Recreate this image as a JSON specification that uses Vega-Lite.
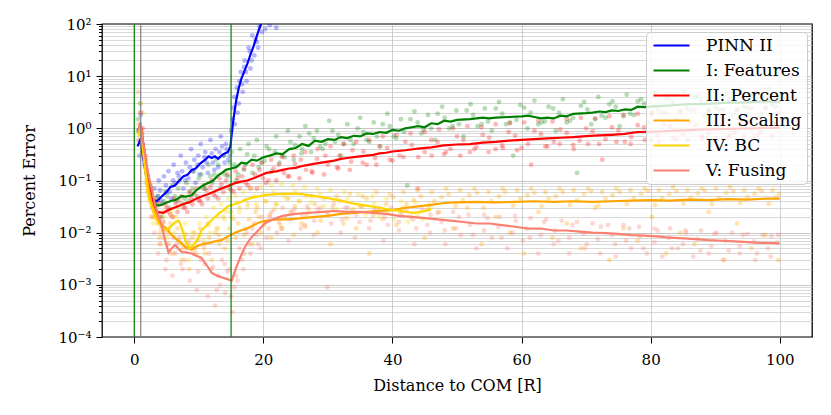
{
  "$schema": "https://vega.github.io/schema/vega-lite/v6.json",
  "description": "Percent error vs distance to COM for PINN variants",
  "width": 710,
  "height": 313,
  "autosize": {"type": "none"},
  "padding": {"left": 102, "top": 24, "right": 19, "bottom": 78},
  "datasets": {
    "pP": [
      {"x":0.6,"y":0.9},{"x":0.8,"y":0.3},{"x":1.0,"y":1.8},{"x":1.3,"y":0.5},{"x":1.6,"y":0.2},{"x":2.0,"y":0.09},{"x":2.3,"y":0.06},{"x":2.8,"y":0.03},{"x":3.1,"y":0.07},{"x":3.4,"y":0.025},{"x":3.8,"y":0.1},{"x":4.2,"y":0.04},{"x":4.6,"y":0.12},{"x":5.0,"y":0.06},{"x":5.3,"y":0.15},{"x":5.7,"y":0.045},{"x":6.1,"y":0.2},{"x":6.4,"y":0.09},{"x":6.9,"y":0.12},{"x":7.2,"y":0.3},{"x":7.6,"y":0.07},{"x":8.0,"y":0.22},{"x":8.4,"y":0.11},{"x":8.8,"y":0.4},{"x":9.1,"y":0.15},{"x":9.5,"y":0.09},{"x":9.9,"y":0.3},{"x":10.3,"y":0.5},{"x":10.6,"y":0.18},{"x":11.0,"y":0.35},{"x":11.4,"y":0.14},{"x":11.8,"y":0.6},{"x":12.2,"y":0.22},{"x":12.6,"y":0.4},{"x":13.0,"y":0.18},{"x":13.4,"y":0.7},{"x":13.8,"y":0.3},{"x":14.2,"y":0.5},{"x":14.6,"y":0.25},{"x":15.0,"y":0.9},{"x":15.3,"y":2.5},{"x":15.6,"y":1.2},{"x":15.9,"y":6},{"x":16.2,"y":3},{"x":16.5,"y":12},{"x":16.8,"y":5},{"x":17.1,"y":20},{"x":17.4,"y":8},{"x":17.7,"y":35},{"x":18.0,"y":14},{"x":18.3,"y":60},{"x":18.6,"y":25},{"x":19.0,"y":45},{"x":19.4,"y":90},{"x":19.8,"y":70},{"x":20.3,"y":80},{"x":21.0,"y":95},{"x":22.0,"y":85},
      {"x":2.5,"y":0.05},{"x":3.6,"y":0.05},{"x":4.9,"y":0.08},{"x":6.0,"y":0.1},{"x":7.4,"y":0.15},{"x":8.6,"y":0.18},{"x":9.8,"y":0.2},{"x":10.9,"y":0.28},{"x":12.0,"y":0.33},{"x":13.2,"y":0.35},{"x":14.3,"y":0.4},{"x":14.8,"y":0.3},{"x":15.5,"y":4},{"x":16.3,"y":8},{"x":17.0,"y":15},{"x":17.9,"y":30},{"x":18.8,"y":50},
      {"x":4.0,"y":0.065},{"x":5.5,"y":0.06},{"x":6.7,"y":0.14},{"x":7.9,"y":0.1},{"x":9.3,"y":0.25},{"x":10.1,"y":0.13},{"x":11.2,"y":0.22},{"x":12.4,"y":0.16},{"x":13.6,"y":0.45},{"x":14.0,"y":0.22},{"x":15.2,"y":1.5},{"x":16.0,"y":2},{"x":16.7,"y":7},{"x":17.3,"y":12},{"x":18.2,"y":20},{"x":19.2,"y":35}
    ],
    "pF": [
      {"x":0.6,"y":1.5},{"x":0.9,"y":3.0},{"x":1.2,"y":0.8},{"x":1.5,"y":0.4},{"x":2.1,"y":0.12},{"x":2.6,"y":0.07},{"x":3.1,"y":0.03},{"x":3.7,"y":0.05},{"x":4.3,"y":0.02},{"x":4.8,"y":0.06},{"x":5.4,"y":0.03},{"x":5.9,"y":0.08},{"x":6.5,"y":0.04},{"x":7.0,"y":0.1},{"x":7.6,"y":0.035},{"x":8.1,"y":0.09},{"x":8.7,"y":0.06},{"x":9.2,"y":0.15},{"x":9.8,"y":0.05},{"x":10.4,"y":0.13},{"x":11.0,"y":0.07},{"x":11.5,"y":0.2},{"x":12.1,"y":0.09},{"x":12.7,"y":0.25},{"x":13.3,"y":0.07},{"x":13.9,"y":0.3},{"x":14.5,"y":0.12},{"x":15.1,"y":0.35},{"x":15.8,"y":0.1},{"x":16.4,"y":0.4},{"x":17.0,"y":0.16},{"x":17.7,"y":0.5},{"x":18.3,"y":0.14},{"x":19.0,"y":0.6},{"x":19.8,"y":0.22},{"x":20.5,"y":0.45},{"x":21.3,"y":0.15},{"x":22.0,"y":0.7},{"x":22.9,"y":0.3},{"x":23.8,"y":0.9},{"x":24.7,"y":0.25},{"x":25.6,"y":0.7},{"x":26.5,"y":1.1},{"x":27.4,"y":0.35},{"x":28.3,"y":0.9},{"x":29.2,"y":0.4},{"x":30.2,"y":1.4},{"x":31.1,"y":0.55},{"x":32.0,"y":0.3},{"x":33.0,"y":1.2},{"x":34.0,"y":0.5},{"x":35.0,"y":1.6},{"x":36.0,"y":0.6},{"x":37.1,"y":1.3},{"x":38.1,"y":0.45},{"x":39.2,"y":1.9},{"x":40.2,"y":0.7},{"x":41.3,"y":1.5},{"x":42.3,"y":0.08},{"x":43.4,"y":2.1},{"x":44.5,"y":0.8},{"x":45.5,"y":1.8},{"x":46.6,"y":0.6},{"x":47.7,"y":2.6},{"x":48.8,"y":1.0},{"x":49.9,"y":2.2},{"x":51.0,"y":0.7},{"x":52.1,"y":2.9},{"x":53.2,"y":1.1},{"x":54.3,"y":2.4},{"x":55.4,"y":0.9},{"x":56.5,"y":3.2},{"x":57.6,"y":1.2},{"x":58.7,"y":0.3},{"x":59.8,"y":2.8},{"x":60.9,"y":1.0},{"x":62.0,"y":3.4},{"x":63.1,"y":1.3},{"x":64.2,"y":2.6},{"x":65.3,"y":0.9},{"x":66.4,"y":3.6},{"x":67.5,"y":1.4},{"x":68.6,"y":0.14},{"x":69.7,"y":3.2},{"x":70.8,"y":1.2},{"x":71.9,"y":4.0},{"x":73.0,"y":1.6},{"x":74.1,"y":3.3},{"x":75.2,"y":1.1},{"x":76.3,"y":4.4},{"x":77.4,"y":1.8},{"x":78.5,"y":3.6},{"x":79.6,"y":1.3},{"x":80.7,"y":4.8},{"x":81.8,"y":2.0},{"x":82.9,"y":3.8},{"x":84.0,"y":1.5},{"x":85.1,"y":5.0},{"x":86.2,"y":2.2},{"x":87.3,"y":4.2},{"x":88.4,"y":1.7},{"x":89.5,"y":5.5},{"x":90.6,"y":2.3},{"x":91.7,"y":4.5},{"x":92.8,"y":1.8},{"x":93.9,"y":5.6},{"x":95.0,"y":2.5},{"x":96.1,"y":4.6},{"x":97.2,"y":1.9},{"x":98.3,"y":5.8},{"x":99.4,"y":2.6},
      {"x":2.5,"y":0.08},{"x":4.6,"y":0.04},{"x":6.3,"y":0.05},{"x":7.8,"y":0.045},{"x":9.0,"y":0.07},{"x":10.7,"y":0.07},{"x":12.4,"y":0.13},{"x":14.0,"y":0.13},{"x":15.5,"y":0.2},{"x":17.2,"y":0.2},{"x":18.6,"y":0.3},{"x":20.2,"y":0.24},{"x":21.8,"y":0.36},{"x":23.3,"y":0.28},{"x":24.9,"y":0.48},{"x":26.0,"y":0.4},{"x":27.8,"y":0.65},{"x":29.6,"y":0.5},{"x":31.6,"y":0.75},{"x":33.5,"y":0.6},{"x":35.5,"y":0.85},{"x":37.6,"y":0.7},{"x":39.6,"y":1.1},{"x":41.8,"y":0.85},{"x":43.9,"y":1.3},{"x":46.0,"y":1.0},{"x":48.1,"y":1.6},{"x":50.3,"y":1.2},{"x":52.5,"y":1.8},{"x":54.8,"y":1.35},{"x":57.0,"y":1.9},{"x":59.2,"y":1.45},{"x":61.4,"y":2.0},{"x":63.6,"y":1.35},{"x":65.8,"y":2.0},{"x":68.0,"y":1.6},{"x":70.2,"y":2.3},{"x":72.4,"y":1.75},{"x":74.6,"y":2.6},{"x":76.8,"y":1.9},{"x":79.0,"y":3.0},{"x":81.2,"y":2.2},{"x":83.4,"y":3.2},{"x":85.6,"y":2.4},{"x":87.8,"y":3.4},{"x":90.0,"y":2.5},{"x":92.2,"y":3.6},{"x":94.4,"y":2.6},{"x":96.6,"y":3.7},{"x":98.8,"y":2.8},
      {"x":1.8,"y":0.25},{"x":3.3,"y":0.045},{"x":5.1,"y":0.05},{"x":6.8,"y":0.07},{"x":8.4,"y":0.04},{"x":10.0,"y":0.11},{"x":11.8,"y":0.12},{"x":13.0,"y":0.2},{"x":14.8,"y":0.22},{"x":16.1,"y":0.13},{"x":17.5,"y":0.32},{"x":19.3,"y":0.18},{"x":20.9,"y":0.4},{"x":22.5,"y":0.22},{"x":24.2,"y":0.55},{"x":25.9,"y":0.33},{"x":27.1,"y":0.8},{"x":28.8,"y":0.45},{"x":30.7,"y":0.9},{"x":32.5,"y":0.5},{"x":34.6,"y":1.0},{"x":36.4,"y":0.55},{"x":38.5,"y":1.2},{"x":40.6,"y":0.65},{"x":42.8,"y":1.5},{"x":44.8,"y":0.95},{"x":47.0,"y":1.9},{"x":49.3,"y":1.1},{"x":51.5,"y":2.2},{"x":53.8,"y":1.2},{"x":56.0,"y":2.4},{"x":58.2,"y":1.3},{"x":60.4,"y":2.5},{"x":62.6,"y":1.2},{"x":64.9,"y":2.4},{"x":67.0,"y":1.3},{"x":69.2,"y":2.7},{"x":71.4,"y":1.5},{"x":73.6,"y":2.9},{"x":75.8,"y":1.7},{"x":78.0,"y":3.3},{"x":80.2,"y":2.0},{"x":82.4,"y":3.7},{"x":84.6,"y":2.1},{"x":86.8,"y":3.9},{"x":89.0,"y":2.2},{"x":91.2,"y":4.1},{"x":93.4,"y":2.3},{"x":95.6,"y":4.3},{"x":97.8,"y":2.5},{"x":99.9,"y":4.0}
    ],
    "pPc": [
      {"x":0.7,"y":0.6},{"x":1.0,"y":2.0},{"x":1.3,"y":1.0},{"x":1.7,"y":0.3},{"x":2.2,"y":0.1},{"x":2.8,"y":0.04},{"x":3.3,"y":0.02},{"x":3.9,"y":0.035},{"x":4.5,"y":0.016},{"x":5.0,"y":0.03},{"x":5.6,"y":0.022},{"x":6.1,"y":0.045},{"x":6.7,"y":0.025},{"x":7.3,"y":0.05},{"x":7.9,"y":0.03},{"x":8.5,"y":0.06},{"x":9.0,"y":0.035},{"x":9.6,"y":0.07},{"x":10.2,"y":0.04},{"x":10.8,"y":0.08},{"x":11.4,"y":0.045},{"x":12.0,"y":0.1},{"x":12.6,"y":0.05},{"x":13.2,"y":0.11},{"x":13.8,"y":0.06},{"x":14.4,"y":0.13},{"x":15.0,"y":0.065},{"x":15.7,"y":0.15},{"x":16.3,"y":0.07},{"x":17.0,"y":0.17},{"x":17.6,"y":0.08},{"x":18.3,"y":0.2},{"x":19.0,"y":0.07},{"x":19.7,"y":0.22},{"x":20.4,"y":0.09},{"x":21.2,"y":0.25},{"x":22.0,"y":0.1},{"x":22.9,"y":0.28},{"x":23.8,"y":0.12},{"x":24.7,"y":0.3},{"x":25.6,"y":0.11},{"x":26.5,"y":0.35},{"x":27.5,"y":0.15},{"x":28.4,"y":0.4},{"x":29.4,"y":0.13},{"x":30.4,"y":0.45},{"x":31.4,"y":0.18},{"x":32.4,"y":0.5},{"x":33.4,"y":0.16},{"x":34.4,"y":0.55},{"x":35.4,"y":0.22},{"x":36.4,"y":0.6},{"x":37.5,"y":0.2},{"x":38.5,"y":0.7},{"x":39.6,"y":0.25},{"x":40.6,"y":0.75},{"x":41.7,"y":0.28},{"x":42.8,"y":0.8},{"x":43.9,"y":0.07},{"x":45.0,"y":0.85},{"x":46.1,"y":0.3},{"x":47.2,"y":0.95},{"x":48.3,"y":0.35},{"x":49.4,"y":1.0},{"x":50.5,"y":0.3},{"x":51.6,"y":1.1},{"x":52.7,"y":0.4},{"x":53.8,"y":1.05},{"x":54.9,"y":0.35},{"x":56.0,"y":1.2},{"x":57.1,"y":0.42},{"x":58.2,"y":1.25},{"x":59.3,"y":0.38},{"x":60.4,"y":1.3},{"x":61.5,"y":0.2},{"x":62.6,"y":1.4},{"x":63.7,"y":0.45},{"x":64.8,"y":1.35},{"x":65.9,"y":0.5},{"x":67.0,"y":1.5},{"x":68.1,"y":0.4},{"x":69.2,"y":1.6},{"x":70.3,"y":0.5},{"x":71.4,"y":1.55},{"x":72.5,"y":0.25},{"x":73.6,"y":1.7},{"x":74.7,"y":0.55},{"x":75.8,"y":1.8},{"x":76.9,"y":0.5},{"x":78.0,"y":1.9},{"x":79.1,"y":0.6},{"x":80.2,"y":1.9},{"x":81.3,"y":0.55},{"x":82.4,"y":2.0},{"x":83.5,"y":0.65},{"x":84.6,"y":2.1},{"x":85.7,"y":0.6},{"x":86.8,"y":2.2},{"x":87.9,"y":0.7},{"x":89.0,"y":2.2},{"x":90.1,"y":0.65},{"x":91.2,"y":2.3},{"x":92.3,"y":0.72},{"x":93.4,"y":2.3},{"x":94.5,"y":0.7},{"x":95.6,"y":2.4},{"x":96.7,"y":0.75},{"x":97.8,"y":2.4},{"x":98.9,"y":0.7},{"x":99.8,"y":2.0},
      {"x":3.0,"y":0.03},{"x":4.0,"y":0.02},{"x":5.3,"y":0.025},{"x":6.4,"y":0.036},{"x":7.6,"y":0.03},{"x":8.8,"y":0.045},{"x":10.0,"y":0.042},{"x":11.2,"y":0.065},{"x":12.3,"y":0.055},{"x":13.5,"y":0.085},{"x":14.8,"y":0.07},{"x":16.0,"y":0.11},{"x":17.3,"y":0.09},{"x":18.7,"y":0.13},{"x":20.0,"y":0.11},{"x":21.6,"y":0.17},{"x":23.2,"y":0.14},{"x":24.9,"y":0.21},{"x":26.6,"y":0.16},{"x":28.3,"y":0.26},{"x":30.0,"y":0.2},{"x":31.8,"y":0.3},{"x":33.6,"y":0.23},{"x":35.5,"y":0.36},{"x":37.3,"y":0.27},{"x":39.2,"y":0.42},{"x":41.1,"y":0.3},{"x":43.0,"y":0.48},{"x":45.0,"y":0.35},{"x":47.0,"y":0.55},{"x":49.0,"y":0.4},{"x":51.0,"y":0.6},{"x":53.0,"y":0.44},{"x":55.0,"y":0.66},{"x":57.0,"y":0.47},{"x":59.0,"y":0.72},{"x":61.0,"y":0.5},{"x":63.0,"y":0.78},{"x":65.0,"y":0.55},{"x":67.0,"y":0.82},{"x":69.0,"y":0.58},{"x":71.0,"y":0.88},{"x":73.0,"y":0.62},{"x":75.0,"y":0.92},{"x":77.0,"y":0.68},{"x":79.0,"y":1.05},{"x":81.0,"y":0.72},{"x":83.0,"y":1.1},{"x":85.0,"y":0.76},{"x":87.0,"y":1.15},{"x":89.0,"y":0.8},{"x":91.0,"y":1.2},{"x":93.0,"y":0.82},{"x":95.0,"y":1.25},{"x":97.0,"y":0.85},{"x":99.0,"y":1.25},
      {"x":2.5,"y":0.06},{"x":3.6,"y":0.04},{"x":4.8,"y":0.035},{"x":6.0,"y":0.02},{"x":7.0,"y":0.04},{"x":8.2,"y":0.025},{"x":9.3,"y":0.055},{"x":10.5,"y":0.035},{"x":11.8,"y":0.075},{"x":13.0,"y":0.045},{"x":14.2,"y":0.1},{"x":15.4,"y":0.06},{"x":16.7,"y":0.12},{"x":18.0,"y":0.07},{"x":19.4,"y":0.16},{"x":20.8,"y":0.1},{"x":22.4,"y":0.2},{"x":24.0,"y":0.12},{"x":25.8,"y":0.25},{"x":27.6,"y":0.14},{"x":29.6,"y":0.3},{"x":31.6,"y":0.17},{"x":33.8,"y":0.38},{"x":36.0,"y":0.2},{"x":38.0,"y":0.45},{"x":40.0,"y":0.24},{"x":42.0,"y":0.55},{"x":44.0,"y":0.28},{"x":46.0,"y":0.6},{"x":48.0,"y":0.32},{"x":50.0,"y":0.7},{"x":52.0,"y":0.35},{"x":54.0,"y":0.75},{"x":56.0,"y":0.4},{"x":58.0,"y":0.85},{"x":60.0,"y":0.42},{"x":62.0,"y":0.9},{"x":64.0,"y":0.45},{"x":66.0,"y":0.95},{"x":68.0,"y":0.48},{"x":70.0,"y":1.0},{"x":72.0,"y":0.5},{"x":74.0,"y":1.05},{"x":76.0,"y":0.55},{"x":78.0,"y":1.15},{"x":80.0,"y":0.6},{"x":82.0,"y":1.2},{"x":84.0,"y":0.62},{"x":86.0,"y":1.3},{"x":88.0,"y":0.65},{"x":90.0,"y":1.35},{"x":92.0,"y":0.68},{"x":94.0,"y":1.4},{"x":96.0,"y":0.7},{"x":98.0,"y":1.4}
    ],
    "pS": [
      {"x":0.7,"y":1.2},{"x":1.0,"y":0.5},{"x":1.3,"y":2.0},{"x":1.7,"y":0.2},{"x":2.2,"y":0.06},{"x":2.8,"y":0.02},{"x":3.3,"y":0.04},{"x":3.9,"y":0.008},{"x":4.5,"y":0.025},{"x":5.0,"y":0.006},{"x":5.6,"y":0.015},{"x":6.1,"y":0.004},{"x":6.7,"y":0.012},{"x":7.3,"y":0.003},{"x":7.9,"y":0.009},{"x":8.5,"y":0.002},{"x":9.0,"y":0.008},{"x":9.6,"y":0.004},{"x":10.2,"y":0.012},{"x":10.8,"y":0.005},{"x":11.4,"y":0.015},{"x":12.0,"y":0.003},{"x":12.6,"y":0.01},{"x":13.2,"y":0.006},{"x":13.8,"y":0.02},{"x":14.4,"y":0.007},{"x":15.0,"y":0.025},{"x":15.7,"y":0.008},{"x":16.3,"y":0.03},{"x":17.0,"y":0.009},{"x":17.6,"y":0.035},{"x":18.3,"y":0.006},{"x":19.0,"y":0.03},{"x":19.7,"y":0.01},{"x":20.4,"y":0.04},{"x":21.2,"y":0.008},{"x":22.0,"y":0.035},{"x":22.9,"y":0.012},{"x":23.8,"y":0.045},{"x":24.7,"y":0.009},{"x":25.6,"y":0.04},{"x":26.5,"y":0.013},{"x":27.5,"y":0.05},{"x":28.4,"y":0.01},{"x":29.4,"y":0.045},{"x":30.4,"y":0.006},{"x":31.4,"y":0.05},{"x":32.4,"y":0.015},{"x":33.4,"y":0.055},{"x":34.4,"y":0.012},{"x":35.4,"y":0.05},{"x":36.4,"y":0.004},{"x":37.5,"y":0.06},{"x":38.5,"y":0.018},{"x":39.6,"y":0.055},{"x":40.6,"y":0.014},{"x":41.7,"y":0.06},{"x":42.8,"y":0.02},{"x":43.9,"y":0.065},{"x":45.0,"y":0.008},{"x":46.1,"y":0.06},{"x":47.2,"y":0.025},{"x":48.3,"y":0.07},{"x":49.4,"y":0.012},{"x":50.5,"y":0.065},{"x":51.6,"y":0.03},{"x":52.7,"y":0.07},{"x":53.8,"y":0.006},{"x":54.9,"y":0.06},{"x":56.0,"y":0.02},{"x":57.1,"y":0.07},{"x":58.2,"y":0.01},{"x":59.3,"y":0.065},{"x":60.4,"y":0.004},{"x":61.5,"y":0.07},{"x":62.6,"y":0.025},{"x":63.7,"y":0.06},{"x":64.8,"y":0.008},{"x":65.9,"y":0.07},{"x":67.0,"y":0.015},{"x":68.1,"y":0.065},{"x":69.2,"y":0.005},{"x":70.3,"y":0.07},{"x":71.4,"y":0.03},{"x":72.5,"y":0.06},{"x":73.6,"y":0.003},{"x":74.7,"y":0.07},{"x":75.8,"y":0.012},{"x":76.9,"y":0.065},{"x":78.0,"y":0.007},{"x":79.1,"y":0.07},{"x":80.2,"y":0.02},{"x":81.3,"y":0.065},{"x":82.4,"y":0.004},{"x":83.5,"y":0.075},{"x":84.6,"y":0.01},{"x":85.7,"y":0.065},{"x":86.8,"y":0.006},{"x":87.9,"y":0.07},{"x":89.0,"y":0.025},{"x":90.1,"y":0.07},{"x":91.2,"y":0.003},{"x":92.3,"y":0.075},{"x":93.4,"y":0.015},{"x":94.5,"y":0.065},{"x":95.6,"y":0.005},{"x":96.7,"y":0.07},{"x":97.8,"y":0.009},{"x":98.9,"y":0.065},{"x":99.8,"y":0.003},
      {"x":3.6,"y":0.015},{"x":5.2,"y":0.01},{"x":6.8,"y":0.007},{"x":8.3,"y":0.006},{"x":9.9,"y":0.007},{"x":11.6,"y":0.008},{"x":13.1,"y":0.009},{"x":14.7,"y":0.012},{"x":16.1,"y":0.015},{"x":17.8,"y":0.018},{"x":19.3,"y":0.02},{"x":21.0,"y":0.022},{"x":22.6,"y":0.014},{"x":24.2,"y":0.025},{"x":25.9,"y":0.015},{"x":27.0,"y":0.028},{"x":28.9,"y":0.017},{"x":30.7,"y":0.03},{"x":32.9,"y":0.019},{"x":35.0,"y":0.032},{"x":37.0,"y":0.021},{"x":39.0,"y":0.035},{"x":41.2,"y":0.024},{"x":43.3,"y":0.042},{"x":45.5,"y":0.028},{"x":47.6,"y":0.048},{"x":49.8,"y":0.032},{"x":51.9,"y":0.052},{"x":54.1,"y":0.03},{"x":56.5,"y":0.05},{"x":58.7,"y":0.033},{"x":60.9,"y":0.052},{"x":63.1,"y":0.032},{"x":65.3,"y":0.05},{"x":67.5,"y":0.034},{"x":69.7,"y":0.055},{"x":71.9,"y":0.033},{"x":74.1,"y":0.052},{"x":76.3,"y":0.035},{"x":78.5,"y":0.056},{"x":80.7,"y":0.034},{"x":82.9,"y":0.055},{"x":85.1,"y":0.036},{"x":87.3,"y":0.057},{"x":89.5,"y":0.035},{"x":91.7,"y":0.058},{"x":93.9,"y":0.037},{"x":96.1,"y":0.056},{"x":98.3,"y":0.036},{"x":99.9,"y":0.055},
      {"x":4.0,"y":0.01},{"x":5.8,"y":0.02},{"x":7.5,"y":0.005},{"x":9.3,"y":0.01},{"x":11.0,"y":0.004},{"x":12.8,"y":0.012},{"x":14.0,"y":0.005},{"x":15.4,"y":0.018},{"x":17.2,"y":0.012},{"x":18.8,"y":0.025},{"x":20.1,"y":0.014},{"x":21.7,"y":0.028},{"x":23.3,"y":0.02},{"x":24.9,"y":0.032},{"x":26.7,"y":0.022},{"x":28.0,"y":0.035},{"x":29.9,"y":0.024},{"x":31.9,"y":0.04},{"x":33.9,"y":0.028},{"x":36.0,"y":0.045},{"x":38.0,"y":0.03},{"x":40.1,"y":0.048},{"x":42.2,"y":0.035},{"x":44.4,"y":0.05},{"x":46.5,"y":0.04},{"x":48.7,"y":0.055},{"x":50.9,"y":0.042},{"x":53.1,"y":0.058},{"x":55.3,"y":0.04},{"x":57.5,"y":0.06},{"x":59.8,"y":0.045},{"x":62.0,"y":0.058},{"x":64.2,"y":0.045},{"x":66.4,"y":0.06},{"x":68.6,"y":0.042},{"x":70.8,"y":0.062},{"x":73.0,"y":0.045},{"x":75.2,"y":0.06},{"x":77.4,"y":0.046},{"x":79.6,"y":0.063},{"x":81.8,"y":0.045},{"x":84.0,"y":0.062},{"x":86.2,"y":0.047},{"x":88.4,"y":0.064},{"x":90.6,"y":0.046},{"x":92.8,"y":0.062},{"x":95.0,"y":0.048},{"x":97.2,"y":0.064},{"x":99.4,"y":0.047}
    ],
    "pB": [
      {"x":0.7,"y":0.8},{"x":1.0,"y":3.0},{"x":1.3,"y":0.4},{"x":1.8,"y":0.1},{"x":2.3,"y":0.04},{"x":2.9,"y":0.015},{"x":3.4,"y":0.03},{"x":4.0,"y":0.006},{"x":4.6,"y":0.02},{"x":5.1,"y":0.008},{"x":5.7,"y":0.025},{"x":6.2,"y":0.01},{"x":6.8,"y":0.03},{"x":7.3,"y":0.006},{"x":7.9,"y":0.015},{"x":8.4,"y":0.003},{"x":9.0,"y":0.01},{"x":9.5,"y":0.005},{"x":10.1,"y":0.015},{"x":10.7,"y":0.007},{"x":11.2,"y":0.02},{"x":11.8,"y":0.01},{"x":12.3,"y":0.03},{"x":12.9,"y":0.012},{"x":13.4,"y":0.035},{"x":14.0,"y":0.018},{"x":14.6,"y":0.045},{"x":15.1,"y":0.02},{"x":15.7,"y":0.05},{"x":16.3,"y":0.025},{"x":16.9,"y":0.06},{"x":17.5,"y":0.03},{"x":18.2,"y":0.07},{"x":18.9,"y":0.035},{"x":19.6,"y":0.075},{"x":20.4,"y":0.04},{"x":21.2,"y":0.08},{"x":22.0,"y":0.035},{"x":22.8,"y":0.085},{"x":23.7,"y":0.045},{"x":24.6,"y":0.08},{"x":25.5,"y":0.04},{"x":26.4,"y":0.075},{"x":27.4,"y":0.038},{"x":28.4,"y":0.07},{"x":29.4,"y":0.032},{"x":30.4,"y":0.065},{"x":31.4,"y":0.028},{"x":32.5,"y":0.06},{"x":33.6,"y":0.025},{"x":34.7,"y":0.055},{"x":35.8,"y":0.022},{"x":36.9,"y":0.05},{"x":38.0,"y":0.02},{"x":39.1,"y":0.045},{"x":40.2,"y":0.018},{"x":41.3,"y":0.04},{"x":42.4,"y":0.016},{"x":43.5,"y":0.038},{"x":44.6,"y":0.018},{"x":45.7,"y":0.035},
      {"x":2.0,"y":0.06},{"x":3.0,"y":0.02},{"x":4.3,"y":0.015},{"x":5.5,"y":0.012},{"x":6.5,"y":0.02},{"x":7.7,"y":0.01},{"x":8.8,"y":0.006},{"x":10.3,"y":0.009},{"x":11.5,"y":0.014},{"x":13.0,"y":0.02},{"x":14.3,"y":0.025},{"x":15.9,"y":0.038},{"x":17.2,"y":0.042},{"x":18.6,"y":0.05},{"x":20.0,"y":0.055},{"x":21.6,"y":0.06},{"x":23.2,"y":0.05},{"x":24.9,"y":0.062},{"x":26.7,"y":0.05},{"x":28.8,"y":0.055},{"x":30.9,"y":0.042},{"x":33.0,"y":0.045},{"x":35.1,"y":0.032},{"x":37.2,"y":0.036},{"x":39.4,"y":0.026},{"x":41.6,"y":0.03},{"x":43.8,"y":0.022},{"x":45.9,"y":0.03}
    ],
    "pV": [
      {"x":0.6,"y":5.0},{"x":0.9,"y":2.0},{"x":1.2,"y":0.8},{"x":1.6,"y":0.3},{"x":2.1,"y":0.08},{"x":2.6,"y":0.02},{"x":3.1,"y":0.01},{"x":3.7,"y":0.004},{"x":4.2,"y":0.012},{"x":4.8,"y":0.002},{"x":5.3,"y":0.006},{"x":5.9,"y":0.0015},{"x":6.4,"y":0.004},{"x":7.0,"y":0.008},{"x":7.5,"y":0.002},{"x":8.1,"y":0.005},{"x":8.6,"y":0.0012},{"x":9.2,"y":0.004},{"x":9.7,"y":0.0008},{"x":10.3,"y":0.003},{"x":10.8,"y":0.006},{"x":11.4,"y":0.0006},{"x":11.9,"y":0.002},{"x":12.5,"y":0.0004},{"x":13.0,"y":0.0015},{"x":13.6,"y":0.003},{"x":14.1,"y":0.0007},{"x":14.7,"y":0.002},{"x":15.2,"y":0.0003},{"x":15.8,"y":0.0015},{"x":16.3,"y":0.005},{"x":16.9,"y":0.002},{"x":17.4,"y":0.01},{"x":18.0,"y":0.004},{"x":18.6,"y":0.015},{"x":19.2,"y":0.006},{"x":19.8,"y":0.02},{"x":20.5,"y":0.008},{"x":21.3,"y":0.025},{"x":22.1,"y":0.01},{"x":23.0,"y":0.03},{"x":23.9,"y":0.007},{"x":24.8,"y":0.028},{"x":25.8,"y":0.012},{"x":26.8,"y":0.032},{"x":27.8,"y":0.009},{"x":28.8,"y":0.03},{"x":29.9,"y":0.0009},{"x":30.9,"y":0.035},{"x":32.0,"y":0.01},{"x":33.1,"y":0.03},{"x":34.2,"y":0.008},{"x":35.3,"y":0.032},{"x":36.4,"y":0.012},{"x":37.5,"y":0.028},{"x":38.6,"y":0.007},{"x":39.8,"y":0.03},{"x":41.0,"y":0.011},{"x":42.2,"y":0.026},{"x":43.4,"y":0.006},{"x":44.6,"y":0.028},{"x":45.8,"y":0.01},{"x":47.0,"y":0.024},{"x":48.2,"y":0.006},{"x":49.4,"y":0.025},{"x":50.6,"y":0.009},{"x":51.8,"y":0.022},{"x":53.0,"y":0.005},{"x":54.2,"y":0.022},{"x":55.4,"y":0.008},{"x":56.6,"y":0.02},{"x":57.8,"y":0.005},{"x":59.0,"y":0.021},{"x":60.2,"y":0.007},{"x":61.4,"y":0.019},{"x":62.6,"y":0.004},{"x":63.8,"y":0.018},{"x":65.0,"y":0.006},{"x":66.2,"y":0.017},{"x":67.4,"y":0.004},{"x":68.6,"y":0.016},{"x":69.8,"y":0.005},{"x":71.0,"y":0.015},{"x":72.2,"y":0.004},{"x":73.4,"y":0.014},{"x":74.6,"y":0.0035},{"x":75.8,"y":0.014},{"x":77.0,"y":0.005},{"x":78.2,"y":0.013},{"x":79.4,"y":0.004},{"x":80.6,"y":0.012},{"x":81.8,"y":0.0035},{"x":83.0,"y":0.012},{"x":84.2,"y":0.005},{"x":85.4,"y":0.011},{"x":86.6,"y":0.0035},{"x":87.8,"y":0.011},{"x":89.0,"y":0.004},{"x":90.2,"y":0.01},{"x":91.4,"y":0.003},{"x":92.6,"y":0.01},{"x":93.8,"y":0.004},{"x":95.0,"y":0.0095},{"x":96.2,"y":0.003},{"x":97.4,"y":0.009},{"x":98.6,"y":0.0035},{"x":99.8,"y":0.009},
      {"x":3.4,"y":0.02},{"x":4.5,"y":0.008},{"x":5.6,"y":0.004},{"x":6.6,"y":0.006},{"x":7.8,"y":0.003},{"x":9.4,"y":0.005},{"x":10.9,"y":0.0025},{"x":12.2,"y":0.0022},{"x":13.3,"y":0.001},{"x":14.4,"y":0.0018},{"x":15.5,"y":0.0009},{"x":16.7,"y":0.003},{"x":17.8,"y":0.006},{"x":19.0,"y":0.009},{"x":20.8,"y":0.012},{"x":22.4,"y":0.016},{"x":24.2,"y":0.018},{"x":26.0,"y":0.02},{"x":27.9,"y":0.017},{"x":30.0,"y":0.022},{"x":32.2,"y":0.018},{"x":34.4,"y":0.022},{"x":36.6,"y":0.017},{"x":38.8,"y":0.02},{"x":41.0,"y":0.016},{"x":43.2,"y":0.018},{"x":45.4,"y":0.014},{"x":47.6,"y":0.016},{"x":49.8,"y":0.012},{"x":52.0,"y":0.014},{"x":54.2,"y":0.011},{"x":56.4,"y":0.013},{"x":58.6,"y":0.01},{"x":60.8,"y":0.012},{"x":63.0,"y":0.009},{"x":65.2,"y":0.011},{"x":67.4,"y":0.008},{"x":69.6,"y":0.0095},{"x":71.8,"y":0.0075},{"x":74.0,"y":0.009},{"x":76.2,"y":0.007},{"x":78.4,"y":0.0085},{"x":80.6,"y":0.0065},{"x":82.8,"y":0.008},{"x":85.0,"y":0.006},{"x":87.2,"y":0.0075},{"x":89.4,"y":0.0055},{"x":91.6,"y":0.007},{"x":93.8,"y":0.0055},{"x":96.0,"y":0.0068},{"x":98.2,"y":0.005},{"x":99.6,"y":0.0065},
      {"x":2.9,"y":0.03},{"x":4.0,"y":0.006},{"x":5.0,"y":0.003},{"x":6.1,"y":0.008},{"x":7.2,"y":0.0025},{"x":8.4,"y":0.007},{"x":9.9,"y":0.0018},{"x":11.6,"y":0.004},{"x":12.8,"y":0.0008},{"x":14.0,"y":0.0025},{"x":15.0,"y":0.0006},{"x":16.0,"y":0.0012},{"x":17.0,"y":0.004},{"x":18.3,"y":0.012},{"x":19.6,"y":0.005},{"x":21.0,"y":0.02},{"x":22.8,"y":0.012},{"x":24.5,"y":0.025},{"x":26.4,"y":0.014},{"x":28.4,"y":0.028},{"x":30.5,"y":0.015},{"x":32.7,"y":0.03},{"x":34.9,"y":0.016},{"x":37.1,"y":0.026},{"x":39.3,"y":0.014},{"x":41.5,"y":0.024},{"x":43.7,"y":0.012},{"x":45.9,"y":0.022},{"x":48.1,"y":0.011},{"x":50.3,"y":0.02},{"x":52.5,"y":0.009},{"x":54.7,"y":0.019},{"x":56.9,"y":0.008},{"x":59.1,"y":0.017},{"x":61.3,"y":0.008},{"x":63.5,"y":0.016},{"x":65.7,"y":0.007},{"x":67.9,"y":0.014},{"x":70.1,"y":0.006},{"x":72.3,"y":0.013},{"x":74.5,"y":0.006},{"x":76.7,"y":0.012},{"x":78.9,"y":0.005},{"x":81.1,"y":0.011},{"x":83.3,"y":0.005},{"x":85.5,"y":0.01},{"x":87.7,"y":0.0045},{"x":89.9,"y":0.0095},{"x":92.1,"y":0.0045},{"x":94.3,"y":0.009},{"x":96.5,"y":0.004},{"x":98.7,"y":0.0085}
    ],
    "lines": [
      {"m":"PINN II","x":0.5,"y":0.45},{"m":"PINN II","x":0.93,"y":0.6},{"m":"PINN II","x":1.3,"y":0.3},{"m":"PINN II","x":1.8,"y":0.13},{"m":"PINN II","x":2.4,"y":0.06},{"m":"PINN II","x":3.0,"y":0.042},{"m":"PINN II","x":3.5,"y":0.04},{"m":"PINN II","x":4.3,"y":0.05},{"m":"PINN II","x":5.0,"y":0.06},{"m":"PINN II","x":5.6,"y":0.075},{"m":"PINN II","x":6.3,"y":0.08},{"m":"PINN II","x":7.0,"y":0.1},{"m":"PINN II","x":7.6,"y":0.12},{"m":"PINN II","x":8.3,"y":0.13},{"m":"PINN II","x":8.9,"y":0.16},{"m":"PINN II","x":9.5,"y":0.17},{"m":"PINN II","x":10.2,"y":0.21},{"m":"PINN II","x":11.0,"y":0.25},{"m":"PINN II","x":11.5,"y":0.29},{"m":"PINN II","x":12.0,"y":0.27},{"m":"PINN II","x":12.5,"y":0.29},{"m":"PINN II","x":13.0,"y":0.26},{"m":"PINN II","x":13.5,"y":0.3},{"m":"PINN II","x":14.0,"y":0.33},{"m":"PINN II","x":14.5,"y":0.35},{"m":"PINN II","x":14.9,"y":0.45},{"m":"PINN II","x":15.1,"y":0.8},{"m":"PINN II","x":15.4,"y":1.6},{"m":"PINN II","x":15.8,"y":3.5},{"m":"PINN II","x":16.2,"y":6},{"m":"PINN II","x":16.6,"y":9},{"m":"PINN II","x":17.0,"y":12},{"m":"PINN II","x":17.5,"y":17},{"m":"PINN II","x":18.0,"y":26},{"m":"PINN II","x":18.5,"y":38},{"m":"PINN II","x":19.0,"y":60},{"m":"PINN II","x":19.5,"y":90},{"m":"PINN II","x":20.0,"y":130},
      {"m":"I: Features","x":0.6,"y":0.9},{"m":"I: Features","x":0.9,"y":1.15},{"m":"I: Features","x":1.3,"y":0.55},{"m":"I: Features","x":1.8,"y":0.18},{"m":"I: Features","x":2.4,"y":0.07},{"m":"I: Features","x":3.0,"y":0.04},{"m":"I: Features","x":3.5,"y":0.033},{"m":"I: Features","x":4.2,"y":0.034},{"m":"I: Features","x":5.0,"y":0.038},{"m":"I: Features","x":5.8,"y":0.041},{"m":"I: Features","x":6.5,"y":0.043},{"m":"I: Features","x":7.3,"y":0.05},{"m":"I: Features","x":8.0,"y":0.049},{"m":"I: Features","x":8.9,"y":0.052},{"m":"I: Features","x":9.6,"y":0.065},{"m":"I: Features","x":10.3,"y":0.075},{"m":"I: Features","x":11.0,"y":0.085},{"m":"I: Features","x":11.5,"y":0.09},{"m":"I: Features","x":12.2,"y":0.1},{"m":"I: Features","x":13.0,"y":0.125},{"m":"I: Features","x":13.6,"y":0.14},{"m":"I: Features","x":14.2,"y":0.16},{"m":"I: Features","x":15.0,"y":0.17},{"m":"I: Features","x":15.8,"y":0.18},{"m":"I: Features","x":16.6,"y":0.22},{"m":"I: Features","x":17.4,"y":0.21},{"m":"I: Features","x":18.2,"y":0.25},{"m":"I: Features","x":19.0,"y":0.24},{"m":"I: Features","x":20,"y":0.28},{"m":"I: Features","x":21,"y":0.3},{"m":"I: Features","x":22,"y":0.33},{"m":"I: Features","x":23,"y":0.32},{"m":"I: Features","x":24,"y":0.4},{"m":"I: Features","x":25,"y":0.42},{"m":"I: Features","x":26,"y":0.5},{"m":"I: Features","x":27,"y":0.46},{"m":"I: Features","x":28,"y":0.58},{"m":"I: Features","x":29,"y":0.55},{"m":"I: Features","x":30,"y":0.62},{"m":"I: Features","x":31,"y":0.6},{"m":"I: Features","x":32,"y":0.68},{"m":"I: Features","x":33,"y":0.65},{"m":"I: Features","x":34,"y":0.72},{"m":"I: Features","x":35,"y":0.7},{"m":"I: Features","x":36,"y":0.8},{"m":"I: Features","x":37,"y":0.78},{"m":"I: Features","x":38,"y":0.85},{"m":"I: Features","x":39,"y":0.82},{"m":"I: Features","x":40,"y":0.93},{"m":"I: Features","x":41,"y":0.9},{"m":"I: Features","x":42,"y":1.0},{"m":"I: Features","x":43,"y":1.05},{"m":"I: Features","x":44,"y":1.1},{"m":"I: Features","x":45,"y":1.05},{"m":"I: Features","x":46,"y":1.25},{"m":"I: Features","x":47,"y":1.2},{"m":"I: Features","x":48,"y":1.4},{"m":"I: Features","x":49,"y":1.35},{"m":"I: Features","x":50,"y":1.45},{"m":"I: Features","x":52,"y":1.5},{"m":"I: Features","x":54,"y":1.6},{"m":"I: Features","x":55,"y":1.55},{"m":"I: Features","x":56,"y":1.6},{"m":"I: Features","x":58,"y":1.65},{"m":"I: Features","x":60,"y":1.7},{"m":"I: Features","x":61,"y":1.75},{"m":"I: Features","x":62,"y":1.65},{"m":"I: Features","x":63,"y":1.55},{"m":"I: Features","x":64,"y":1.6},{"m":"I: Features","x":65,"y":1.55},{"m":"I: Features","x":66,"y":1.75},{"m":"I: Features","x":67,"y":1.7},{"m":"I: Features","x":68,"y":1.9},{"m":"I: Features","x":70,"y":1.95},{"m":"I: Features","x":71,"y":2.0},{"m":"I: Features","x":72,"y":2.1},{"m":"I: Features","x":73,"y":2.05},{"m":"I: Features","x":74,"y":2.2},{"m":"I: Features","x":75,"y":2.15},{"m":"I: Features","x":76,"y":2.3},{"m":"I: Features","x":77,"y":2.25},{"m":"I: Features","x":78,"y":2.6},{"m":"I: Features","x":79,"y":2.55},{"m":"I: Features","x":80,"y":2.6},{"m":"I: Features","x":82,"y":2.7},{"m":"I: Features","x":84,"y":2.8},{"m":"I: Features","x":86,"y":2.9},{"m":"I: Features","x":88,"y":2.9},{"m":"I: Features","x":90,"y":3.0},{"m":"I: Features","x":92,"y":3.1},{"m":"I: Features","x":94,"y":3.1},{"m":"I: Features","x":96,"y":3.2},{"m":"I: Features","x":98,"y":3.3},{"m":"I: Features","x":100,"y":3.2},
      {"m":"II: Percent","x":0.7,"y":0.8},{"m":"II: Percent","x":1.0,"y":1.2},{"m":"II: Percent","x":1.4,"y":0.5},{"m":"II: Percent","x":2.0,"y":0.15},{"m":"II: Percent","x":2.7,"y":0.05},{"m":"II: Percent","x":3.5,"y":0.025},{"m":"II: Percent","x":4.5,"y":0.024},{"m":"II: Percent","x":5.5,"y":0.028},{"m":"II: Percent","x":6.5,"y":0.031},{"m":"II: Percent","x":7.5,"y":0.035},{"m":"II: Percent","x":8.5,"y":0.038},{"m":"II: Percent","x":9.5,"y":0.044},{"m":"II: Percent","x":10.5,"y":0.05},{"m":"II: Percent","x":11.5,"y":0.055},{"m":"II: Percent","x":12.5,"y":0.062},{"m":"II: Percent","x":13.5,"y":0.07},{"m":"II: Percent","x":14.5,"y":0.078},{"m":"II: Percent","x":15.5,"y":0.088},{"m":"II: Percent","x":16.5,"y":0.095},{"m":"II: Percent","x":17.5,"y":0.1},{"m":"II: Percent","x":18.5,"y":0.11},{"m":"II: Percent","x":19.5,"y":0.125},{"m":"II: Percent","x":20.5,"y":0.14},{"m":"II: Percent","x":22,"y":0.15},{"m":"II: Percent","x":23,"y":0.16},{"m":"II: Percent","x":24,"y":0.17},{"m":"II: Percent","x":25,"y":0.175},{"m":"II: Percent","x":26,"y":0.19},{"m":"II: Percent","x":27,"y":0.2},{"m":"II: Percent","x":28,"y":0.21},{"m":"II: Percent","x":29,"y":0.22},{"m":"II: Percent","x":30,"y":0.23},{"m":"II: Percent","x":31,"y":0.24},{"m":"II: Percent","x":32,"y":0.26},{"m":"II: Percent","x":33,"y":0.27},{"m":"II: Percent","x":34,"y":0.28},{"m":"II: Percent","x":35,"y":0.29},{"m":"II: Percent","x":36,"y":0.3},{"m":"II: Percent","x":37,"y":0.31},{"m":"II: Percent","x":38,"y":0.33},{"m":"II: Percent","x":39,"y":0.34},{"m":"II: Percent","x":40,"y":0.36},{"m":"II: Percent","x":42,"y":0.38},{"m":"II: Percent","x":44,"y":0.41},{"m":"II: Percent","x":46,"y":0.43},{"m":"II: Percent","x":48,"y":0.47},{"m":"II: Percent","x":50,"y":0.49},{"m":"II: Percent","x":52,"y":0.5},{"m":"II: Percent","x":54,"y":0.53},{"m":"II: Percent","x":56,"y":0.55},{"m":"II: Percent","x":58,"y":0.58},{"m":"II: Percent","x":60,"y":0.6},{"m":"II: Percent","x":62,"y":0.62},{"m":"II: Percent","x":64,"y":0.64},{"m":"II: Percent","x":66,"y":0.66},{"m":"II: Percent","x":68,"y":0.68},{"m":"II: Percent","x":70,"y":0.71},{"m":"II: Percent","x":72,"y":0.73},{"m":"II: Percent","x":74,"y":0.75},{"m":"II: Percent","x":76,"y":0.78},{"m":"II: Percent","x":78,"y":0.85},{"m":"II: Percent","x":80,"y":0.86},{"m":"II: Percent","x":82,"y":0.88},{"m":"II: Percent","x":84,"y":0.9},{"m":"II: Percent","x":86,"y":0.92},{"m":"II: Percent","x":88,"y":0.95},{"m":"II: Percent","x":90,"y":0.96},{"m":"II: Percent","x":92,"y":0.98},{"m":"II: Percent","x":94,"y":0.99},{"m":"II: Percent","x":96,"y":1.0},{"m":"II: Percent","x":98,"y":1.02},{"m":"II: Percent","x":100,"y":1.02},
      {"m":"III: Scaling","x":0.7,"y":0.9},{"m":"III: Scaling","x":1.0,"y":1.1},{"m":"III: Scaling","x":1.4,"y":0.4},{"m":"III: Scaling","x":2.0,"y":0.1},{"m":"III: Scaling","x":2.7,"y":0.035},{"m":"III: Scaling","x":3.5,"y":0.02},{"m":"III: Scaling","x":4.3,"y":0.014},{"m":"III: Scaling","x":5.0,"y":0.012},{"m":"III: Scaling","x":5.8,"y":0.009},{"m":"III: Scaling","x":6.5,"y":0.0075},{"m":"III: Scaling","x":7.3,"y":0.0063},{"m":"III: Scaling","x":8.0,"y":0.0052},{"m":"III: Scaling","x":8.9,"y":0.0047},{"m":"III: Scaling","x":9.7,"y":0.0055},{"m":"III: Scaling","x":10.5,"y":0.006},{"m":"III: Scaling","x":11.5,"y":0.0063},{"m":"III: Scaling","x":12.5,"y":0.0068},{"m":"III: Scaling","x":13.5,"y":0.0072},{"m":"III: Scaling","x":14.5,"y":0.0085},{"m":"III: Scaling","x":15.6,"y":0.01},{"m":"III: Scaling","x":16.5,"y":0.011},{"m":"III: Scaling","x":17.5,"y":0.012},{"m":"III: Scaling","x":18.5,"y":0.014},{"m":"III: Scaling","x":19.5,"y":0.016},{"m":"III: Scaling","x":20.5,"y":0.017},{"m":"III: Scaling","x":22,"y":0.018},{"m":"III: Scaling","x":24,"y":0.018},{"m":"III: Scaling","x":26,"y":0.019},{"m":"III: Scaling","x":28,"y":0.02},{"m":"III: Scaling","x":30,"y":0.021},{"m":"III: Scaling","x":32,"y":0.023},{"m":"III: Scaling","x":34,"y":0.024},{"m":"III: Scaling","x":36,"y":0.025},{"m":"III: Scaling","x":38,"y":0.026},{"m":"III: Scaling","x":40,"y":0.027},{"m":"III: Scaling","x":42,"y":0.03},{"m":"III: Scaling","x":44,"y":0.032},{"m":"III: Scaling","x":46,"y":0.034},{"m":"III: Scaling","x":48,"y":0.037},{"m":"III: Scaling","x":50,"y":0.038},{"m":"III: Scaling","x":53,"y":0.039},{"m":"III: Scaling","x":56,"y":0.038},{"m":"III: Scaling","x":59,"y":0.039},{"m":"III: Scaling","x":62,"y":0.04},{"m":"III: Scaling","x":65,"y":0.039},{"m":"III: Scaling","x":68,"y":0.04},{"m":"III: Scaling","x":71,"y":0.039},{"m":"III: Scaling","x":74,"y":0.04},{"m":"III: Scaling","x":77,"y":0.041},{"m":"III: Scaling","x":80,"y":0.042},{"m":"III: Scaling","x":83,"y":0.041},{"m":"III: Scaling","x":86,"y":0.043},{"m":"III: Scaling","x":89,"y":0.042},{"m":"III: Scaling","x":92,"y":0.044},{"m":"III: Scaling","x":95,"y":0.043},{"m":"III: Scaling","x":98,"y":0.045},{"m":"III: Scaling","x":100,"y":0.045},
      {"m":"IV: BC","x":0.7,"y":0.7},{"m":"IV: BC","x":0.93,"y":1.25},{"m":"IV: BC","x":1.3,"y":0.4},{"m":"IV: BC","x":1.7,"y":0.15},{"m":"IV: BC","x":2.2,"y":0.048},{"m":"IV: BC","x":2.7,"y":0.03},{"m":"IV: BC","x":3.2,"y":0.02},{"m":"IV: BC","x":3.8,"y":0.015},{"m":"IV: BC","x":4.4,"y":0.012},{"m":"IV: BC","x":4.8,"y":0.011},{"m":"IV: BC","x":5.3,"y":0.012},{"m":"IV: BC","x":5.9,"y":0.014},{"m":"IV: BC","x":6.4,"y":0.016},{"m":"IV: BC","x":6.9,"y":0.017},{"m":"IV: BC","x":7.4,"y":0.012},{"m":"IV: BC","x":8.0,"y":0.0065},{"m":"IV: BC","x":8.6,"y":0.005},{"m":"IV: BC","x":9.2,"y":0.0058},{"m":"IV: BC","x":9.8,"y":0.0075},{"m":"IV: BC","x":10.4,"y":0.011},{"m":"IV: BC","x":11.0,"y":0.013},{"m":"IV: BC","x":11.7,"y":0.016},{"m":"IV: BC","x":12.5,"y":0.02},{"m":"IV: BC","x":13.2,"y":0.024},{"m":"IV: BC","x":14.0,"y":0.028},{"m":"IV: BC","x":14.5,"y":0.032},{"m":"IV: BC","x":15.5,"y":0.035},{"m":"IV: BC","x":16.6,"y":0.039},{"m":"IV: BC","x":17.5,"y":0.044},{"m":"IV: BC","x":18.5,"y":0.048},{"m":"IV: BC","x":19.5,"y":0.05},{"m":"IV: BC","x":20.5,"y":0.053},{"m":"IV: BC","x":22,"y":0.055},{"m":"IV: BC","x":24,"y":0.056},{"m":"IV: BC","x":26,"y":0.055},{"m":"IV: BC","x":28,"y":0.05},{"m":"IV: BC","x":30,"y":0.046},{"m":"IV: BC","x":32,"y":0.041},{"m":"IV: BC","x":34,"y":0.036},{"m":"IV: BC","x":36,"y":0.033},{"m":"IV: BC","x":38,"y":0.03},{"m":"IV: BC","x":40,"y":0.027},{"m":"IV: BC","x":41.5,"y":0.026},{"m":"IV: BC","x":43,"y":0.024},{"m":"IV: BC","x":44.5,"y":0.025},{"m":"IV: BC","x":46,"y":0.028},
      {"m":"V: Fusing","x":0.67,"y":0.95},{"m":"V: Fusing","x":0.9,"y":1.3},{"m":"V: Fusing","x":1.3,"y":0.6},{"m":"V: Fusing","x":1.8,"y":0.25},{"m":"V: Fusing","x":2.3,"y":0.11},{"m":"V: Fusing","x":2.7,"y":0.07},{"m":"V: Fusing","x":3.2,"y":0.035},{"m":"V: Fusing","x":3.8,"y":0.02},{"m":"V: Fusing","x":4.3,"y":0.013},{"m":"V: Fusing","x":4.8,"y":0.007},{"m":"V: Fusing","x":5.3,"y":0.0042},{"m":"V: Fusing","x":5.8,"y":0.005},{"m":"V: Fusing","x":6.3,"y":0.0058},{"m":"V: Fusing","x":6.8,"y":0.005},{"m":"V: Fusing","x":7.3,"y":0.0043},{"m":"V: Fusing","x":8.0,"y":0.0042},{"m":"V: Fusing","x":8.9,"y":0.004},{"m":"V: Fusing","x":9.6,"y":0.0036},{"m":"V: Fusing","x":10.4,"y":0.0033},{"m":"V: Fusing","x":11.2,"y":0.0024},{"m":"V: Fusing","x":12.0,"y":0.0017},{"m":"V: Fusing","x":12.8,"y":0.0015},{"m":"V: Fusing","x":13.5,"y":0.0014},{"m":"V: Fusing","x":14.3,"y":0.0013},{"m":"V: Fusing","x":15.1,"y":0.0012},{"m":"V: Fusing","x":15.7,"y":0.002},{"m":"V: Fusing","x":16.4,"y":0.0033},{"m":"V: Fusing","x":17.2,"y":0.0055},{"m":"V: Fusing","x":18.2,"y":0.0083},{"m":"V: Fusing","x":19.2,"y":0.011},{"m":"V: Fusing","x":20.2,"y":0.015},{"m":"V: Fusing","x":21.5,"y":0.018},{"m":"V: Fusing","x":23,"y":0.021},{"m":"V: Fusing","x":25,"y":0.023},{"m":"V: Fusing","x":27,"y":0.024},{"m":"V: Fusing","x":29,"y":0.025},{"m":"V: Fusing","x":31,"y":0.026},{"m":"V: Fusing","x":33,"y":0.025},{"m":"V: Fusing","x":35,"y":0.025},{"m":"V: Fusing","x":37,"y":0.024},{"m":"V: Fusing","x":39,"y":0.023},{"m":"V: Fusing","x":41,"y":0.021},{"m":"V: Fusing","x":43,"y":0.02},{"m":"V: Fusing","x":45,"y":0.019},{"m":"V: Fusing","x":47,"y":0.018},{"m":"V: Fusing","x":49,"y":0.017},{"m":"V: Fusing","x":51,"y":0.016},{"m":"V: Fusing","x":53,"y":0.015},{"m":"V: Fusing","x":55,"y":0.015},{"m":"V: Fusing","x":57,"y":0.014},{"m":"V: Fusing","x":59,"y":0.013},{"m":"V: Fusing","x":61,"y":0.012},{"m":"V: Fusing","x":63,"y":0.012},{"m":"V: Fusing","x":65,"y":0.011},{"m":"V: Fusing","x":67,"y":0.011},{"m":"V: Fusing","x":69,"y":0.0105},{"m":"V: Fusing","x":71,"y":0.01},{"m":"V: Fusing","x":73,"y":0.0098},{"m":"V: Fusing","x":75,"y":0.0095},{"m":"V: Fusing","x":77,"y":0.009},{"m":"V: Fusing","x":79,"y":0.0088},{"m":"V: Fusing","x":81,"y":0.0085},{"m":"V: Fusing","x":83,"y":0.008},{"m":"V: Fusing","x":85,"y":0.0078},{"m":"V: Fusing","x":87,"y":0.0075},{"m":"V: Fusing","x":89,"y":0.0072},{"m":"V: Fusing","x":91,"y":0.007},{"m":"V: Fusing","x":93,"y":0.0068},{"m":"V: Fusing","x":95,"y":0.0066},{"m":"V: Fusing","x":97,"y":0.0064},{"m":"V: Fusing","x":99,"y":0.0063},{"m":"V: Fusing","x":100,"y":0.0062}
    ],
    "greenRules": [{"x": 0}, {"x": 15}],
    "grayRules": [{"x": 1}]
  },
  "layer": [
    {
      "encoding": {
        "x": {
          "field": "x",
          "type": "quantitative",
          "scale": {"domain": [-5, 105], "nice": false, "zero": false},
          "axis": {
            "title": "Distance to COM [R]",
            "values": [0, 20, 40, 60, 80, 100],
            "tickSize": 6,
            "labelPadding": 9,
            "titlePadding": 10
          }
        },
        "y": {
          "field": "y",
          "type": "quantitative",
          "scale": {"type": "log", "domain": [0.0001, 100], "nice": false},
          "axis": {
            "title": "Percent Error",
            "values": [0.0001,0.0002,0.0003,0.0004,0.0005,0.0006,0.0007,0.0008,0.0009,0.001,0.002,0.003,0.004,0.005,0.006,0.007,0.008,0.009,0.01,0.02,0.03,0.04,0.05,0.06,0.07,0.08,0.09,0.1,0.2,0.3,0.4,0.5,0.6,0.7,0.8,0.9,1,2,3,4,5,6,7,8,9,10,20,30,40,50,60,70,80,90,100],
            "labelExpr": "abs(log(datum.value)/LN10 - round(log(datum.value)/LN10)) < 0.001 ? ['10⁻⁴','10⁻³','10⁻²','10⁻¹','10⁰','10¹','10²'][round(log(datum.value)/LN10) + 4] : ''",
            "tickSize": {"condition": {"test": "abs(log(datum.value)/LN10 - round(log(datum.value)/LN10)) < 0.001", "value": 6}, "value": 3.5},
            "gridColor": {"condition": {"test": "abs(log(datum.value)/LN10 - round(log(datum.value)/LN10)) < 0.001", "value": "#a0a0a0"}, "value": "#c0c0c0"},
            "labelPadding": 5,
            "titlePadding": 20
          }
        }
      },
      "layer": [
        {"data": {"name": "pP"}, "mark": {"type": "circle", "color": "#0000ff", "opacity": 0.28, "size": 24, "clip": true}},
        {"data": {"name": "pF"}, "mark": {"type": "circle", "color": "#008000", "opacity": 0.28, "size": 24, "clip": true}},
        {"data": {"name": "pPc"}, "mark": {"type": "circle", "color": "#ff0000", "opacity": 0.28, "size": 24, "clip": true}},
        {"data": {"name": "pS"}, "mark": {"type": "circle", "color": "#ffa500", "opacity": 0.3, "size": 24, "clip": true}},
        {"data": {"name": "pB"}, "mark": {"type": "circle", "color": "#ffd700", "opacity": 0.3, "size": 24, "clip": true}},
        {"data": {"name": "pV"}, "mark": {"type": "circle", "color": "#fa8072", "opacity": 0.3, "size": 24, "clip": true}},
        {
          "data": {"name": "lines"},
          "mark": {"type": "line", "strokeWidth": 2.2, "clip": true},
          "encoding": {
            "color": {
              "field": "m",
              "type": "nominal",
              "scale": {
                "domain": ["PINN II", "I: Features", "II: Percent", "III: Scaling", "IV: BC", "V: Fusing"],
                "range": ["#0000ff", "#008000", "#ff0000", "#ffa500", "#ffd700", "#fa8072"]
              },
              "legend": {
                "title": null,
                "orient": "none",
                "legendX": 544,
                "legendY": 8,
                "symbolType": "M-1,0H5",
                "symbolSize": 144,
                "symbolStrokeWidth": 2.2,
                "labelFontSize": 17,
                "labelOffset": 38,
                "labelLimit": 200,
                "rowPadding": 7,
                "padding": 5,
                "fillColor": "rgba(255,255,255,0.8)",
                "strokeColor": "#cccccc",
                "cornerRadius": 4
              }
            }
          }
        }
      ]
    },
    {
      "data": {"name": "greenRules"},
      "mark": {"type": "rule", "color": "#008000", "strokeWidth": 1.2},
      "encoding": {"x": {"field": "x", "type": "quantitative"}}
    },
    {
      "data": {"name": "grayRules"},
      "mark": {"type": "rule", "color": "#808080", "strokeWidth": 1.2},
      "encoding": {"x": {"field": "x", "type": "quantitative"}}
    }
  ],
  "config": {
    "font": "DejaVu Serif",
    "view": {"stroke": "black", "strokeWidth": 1.3},
    "axis": {
      "domain": false,
      "grid": true,
      "gridWidth": 0.6,
      "gridColor": "#b0b0b0",
      "tickColor": "black",
      "tickWidth": 1,
      "labelColor": "black",
      "labelFontSize": 15,
      "labelOverlap": false,
      "labelFlush": false,
      "titleColor": "black",
      "titleFontSize": 16,
      "titleFontWeight": "normal"
    },
    "legend": {"labelColor": "black", "labelFont": "DejaVu Serif"}
  }
}
